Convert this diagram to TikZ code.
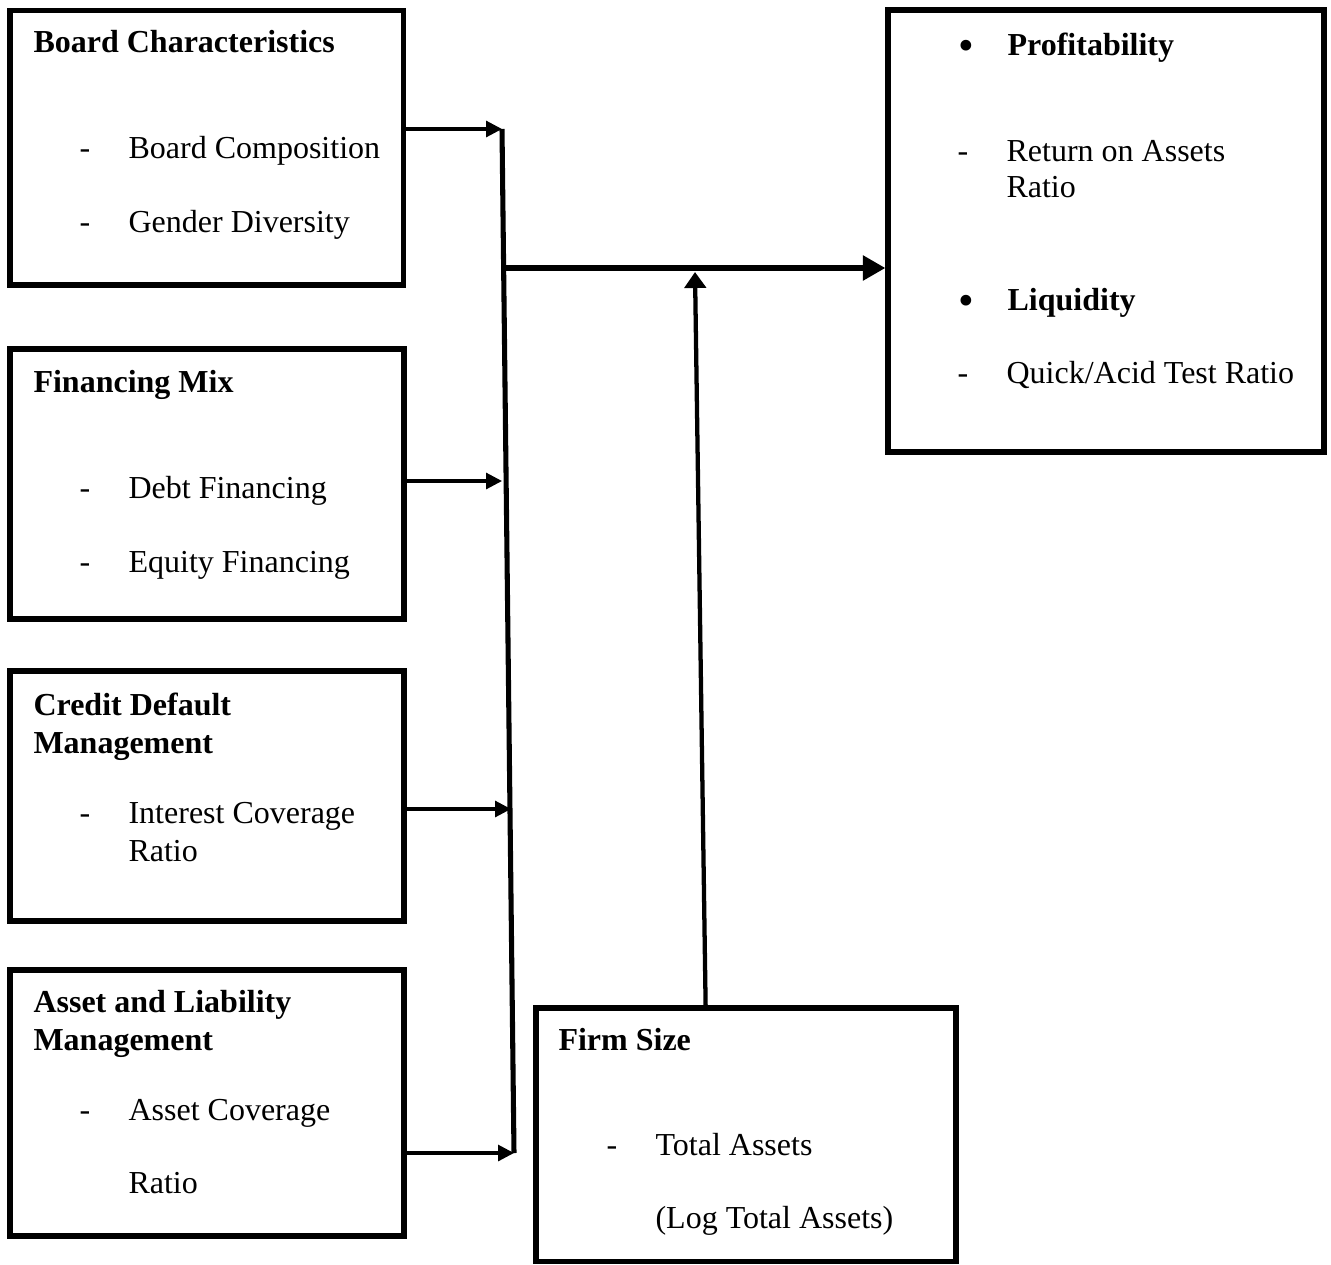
\documentclass[tikz,border=0pt]{standalone}
\usepackage{fontspec}
\setmainfont{Liberation Serif}
\usetikzlibrary{arrows.meta,calc,positioning}

\newcommand{\dashitem}[1]{\makebox[18.4pt][l]{-}#1}
\newcommand{\bulletitem}[1]{\makebox[18.4pt][l]{\raisebox{-2.1pt}{\scalebox{1.4}{\textbullet}}}\textbf{#1}}

\tikzset{
  block/.style={draw, line width=1.9pt, inner sep=0pt},
  txt/.style={anchor=base west, inner sep=0pt, font=\fontsize{12}{14}\selectfont},
  headtxt/.style={txt, font=\fontsize{12}{14}\selectfont\bfseries},
  feed/.style={line width=1.15pt, -{Triangle[length=6pt,width=6pt]}},
  busline/.style={line width=1.9pt},
  mainarrow/.style={line width=2.6pt, -{Triangle[length=8.5pt,width=9pt]}},
  sizearrow/.style={line width=1.6pt, -{Triangle[length=6pt,width=8pt]}},
}

\begin{document}
\begin{tikzpicture}[x=0.375pt, y=-0.375pt, >=Stealth]
\useasboundingbox (0,0) rectangle (1331,1264);

% boxes
\node[block, minimum width=147.4pt, minimum height=103.1pt] (board) at (206.5,147.5) {};
\node[block, minimum width=147.75pt, minimum height=101.25pt] (fin) at (207,484) {};
\node[block, minimum width=147.75pt, minimum height=93.75pt] (credit) at (207,796) {};
\node[block, minimum width=147.75pt, minimum height=99.75pt] (asset) at (207,1103) {};
\node[block, minimum width=163.5pt, minimum height=165.75pt] (outcome) at (1106,231) {};
\node[block, minimum width=157.5pt, minimum height=94.9pt] (firm) at (746,1134.5) {};

% texts
\node[headtxt] (boardhead) at (33,52) {Board Characteristics};
\node[txt] (boardcomp) at (79,158) {\dashitem{Board Composition}};
\node[txt] (boardgender) at (79,232) {\dashitem{Gender Diversity}};

\node[headtxt] (finhead) at (33,392) {Financing Mix};
\node[txt] (findebt) at (79,498) {\dashitem{Debt Financing}};
\node[txt] (finequity) at (79,572) {\dashitem{Equity Financing}};

\node[headtxt] (credithead) at (33,715) {Credit Default};
\node[headtxt] (creditheadb) at (33,753) {Management};
\node[txt] (creditcov) at (79,823) {\dashitem{Interest Coverage}};
\node[txt] (creditratio) at (128,861) {Ratio};

\node[headtxt] (assethead) at (33,1012) {Asset and Liability};
\node[headtxt] (assetheadb) at (33,1050) {Management};
\node[txt] (assetcov) at (79,1120) {\dashitem{Asset Coverage}};
\node[txt] (assetratio) at (128,1193) {Ratio};

\node[txt] (profit) at (958,55) {\bulletitem{Profitability}};
\node[txt] (roa) at (957,161) {\dashitem{Return on Assets}};
\node[txt] (roaratio) at (1006,197) {Ratio};
\node[txt] (liquid) at (958,310) {\bulletitem{Liquidity}};
\node[txt] (quick) at (957,383) {\dashitem{Quick/Acid Test Ratio}};

\node[headtxt] (firmhead) at (558,1050) {Firm Size};
\node[txt] (firmtotal) at (606,1155) {\dashitem{Total Assets}};
\node[txt] (firmlog) at (655,1228) {(Log Total Assets)};

% connectors
\coordinate (bustop) at (502,129);
\coordinate (busbot) at (514,1153);
\coordinate (busfin) at (502,481);
\coordinate (buscredit) at (511,809);
\coordinate (busjoin) at (506,268);
\coordinate (sizetip) at (695,272);

\draw[busline] (bustop) -- (busbot);
\draw[feed] (board.east |- bustop) -- (bustop);
\draw[feed] (fin.east |- busfin) -- (busfin);
\draw[feed] (credit.east |- buscredit) -- (buscredit);
\draw[feed] (asset.east |- busbot) -- (busbot);

\draw[mainarrow] (busjoin) -- (outcome.west |- busjoin);
\draw[sizearrow] ($(firm.north west)!0.405!(firm.north east)$) -- (sizetip);

\end{tikzpicture}
\end{document}
